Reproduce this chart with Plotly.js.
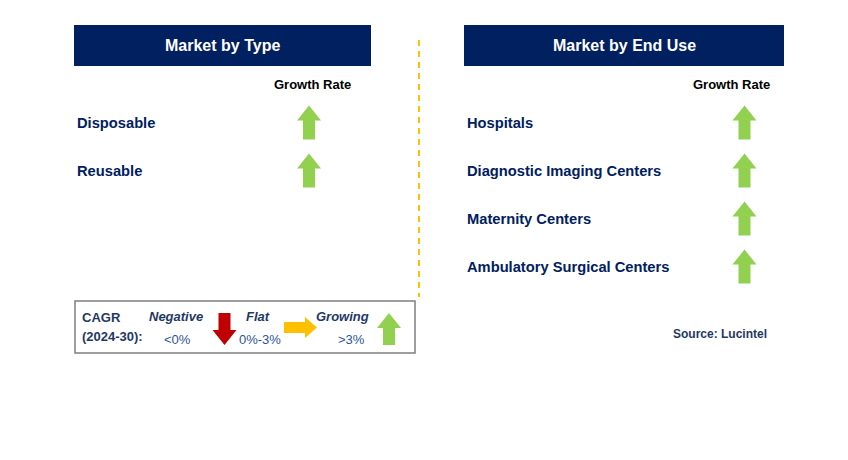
<!DOCTYPE html>
<html>
<head>
<meta charset="utf-8">
<script src="https://cdn.plot.ly/plotly-3.0.1.min.js"></script>
<style>html,body{margin:0;padding:0;background:#fff;}#chart{width:848px;height:460px;}</style>
</head>
<body>
<div id="chart"></div>
<script>
// ---- data ----
var typeTitle = "Market by Type";
var typeSegments = ["Disposable", "Reusable"];
var typeGrowth = ["growing", "growing"];
var endUseTitle = "Market by End Use";
var endUseSegments = ["Hospitals", "Diagnostic Imaging Centers", "Maternity Centers", "Ambulatory Surgical Centers"];
var endUseGrowth = ["growing", "growing", "growing", "growing"];
var columnLabel = "Growth Rate";
var legendCats = ["Negative", "Flat", "Growing"];
var legendRanges = ["<0%", "0%-3%", ">3%"];
var cagrLabel = ["CAGR", "(2024-30):"];
var sourceText = "Source: Lucintel";

// ---- styling ----
var NAVY = "#002060", GREEN = "#92D050", RED = "#C00000", YELLOW = "#FFC000";
var FONT = "Liberation Sans, Arial, sans-serif";

function upArrow(cx, top, bottom, w, headH, shaftW) {
  var hw = w / 2, sw = shaftW / 2, hb = top + headH;
  return {x: [cx, cx + hw, cx + sw, cx + sw, cx - sw, cx - sw, cx - hw, cx],
          y: [top, hb, hb, bottom, bottom, hb, hb, top]};
}
function downArrow(cx, top, bottom, w, headH, shaftW) {
  var hw = w / 2, sw = shaftW / 2, hb = bottom - headH;
  return {x: [cx, cx + hw, cx + sw, cx + sw, cx - sw, cx - sw, cx - hw, cx],
          y: [bottom, hb, hb, top, top, hb, hb, bottom]};
}
function rightArrow(left, right, cy, h, headW, shaftH) {
  var hh = h / 2, sh = shaftH / 2, hb = right - headW;
  return {x: [right, hb, hb, left, left, hb, hb, right],
          y: [cy, cy - hh, cy - sh, cy - sh, cy + sh, cy + sh, cy + hh, cy]};
}
var growthColor = {growing: GREEN, negative: RED, flat: YELLOW};
function growthShape(g, cx, cy) {
  if (g === "negative") return downArrow(cx, cy - 16.5, cy + 16.5, 24, 15, 12);
  if (g === "flat") return rightArrow(cx - 17, cx + 17, cy, 21, 12, 11);
  return upArrow(cx, cy - 17, cy + 17, 24, 15, 12);
}
function polyTrace(p, color) {
  return {type: "scatter", mode: "lines", x: p.x, y: p.y, fill: "toself",
          fillcolor: color, line: {width: 0, color: color}, hoverinfo: "skip", showlegend: false};
}

var traces = [];
var annotations = [];
var shapes = [];

function txt(text, x, y, opts) {
  opts = opts || {};
  annotations.push({text: text, x: x, y: y, xref: "x", yref: "y", showarrow: false,
    xanchor: opts.xanchor || "left", yanchor: "middle",
    font: {family: FONT, size: opts.size || 14.7, color: opts.color || NAVY}});
}

// headers
shapes.push({type: "rect", x0: 74, x1: 371, y0: 25, y1: 66, fillcolor: NAVY, line: {width: 0}, layer: "below"});
shapes.push({type: "rect", x0: 464, x1: 784, y0: 25, y1: 66, fillcolor: NAVY, line: {width: 0}, layer: "below"});
txt("<b>" + typeTitle + "</b>", 222.5, 45.5, {xanchor: "center", size: 16, color: "#fff"});
txt("<b>" + endUseTitle + "</b>", 624, 45.5, {xanchor: "center", size: 16, color: "#fff"});

// dashed divider
shapes.push({type: "line", x0: 419, x1: 419, y0: 40, y1: 297, line: {color: YELLOW, width: 2, dash: "6px,5px"}});

// column labels
txt("<b>" + columnLabel + "</b>", 312, 84.5, {xanchor: "center", size: 13, color: "#000"});
txt("<b>" + columnLabel + "</b>", 731, 84.5, {xanchor: "center", size: 13, color: "#000"});

// rows
var rowY0 = 124, rowStep = 48;
typeSegments.forEach(function (s, i) {
  var y = rowY0 + i * rowStep;
  txt("<b>" + s + "</b>", 75, y - 1);
  traces.push(polyTrace(growthShape(typeGrowth[i], 309, y - 1.5), growthColor[typeGrowth[i]]));
});
endUseSegments.forEach(function (s, i) {
  var y = rowY0 + i * rowStep;
  txt("<b>" + s + "</b>", 465, y - 1);
  traces.push(polyTrace(growthShape(endUseGrowth[i], 744.5, y - 1.5), growthColor[endUseGrowth[i]]));
});

// legend box
shapes.push({type: "rect", x0: 75, x1: 415, y0: 301, y1: 353, line: {color: "#7F7F7F", width: 1.5}, fillcolor: "rgba(0,0,0,0)"});
txt("<b>" + cagrLabel[0] + "</b>", 80, 317, {size: 13, color: "#1F3864"});
txt("<b>" + cagrLabel[1] + "</b>", 80, 336.5, {size: 13, color: "#1F3864"});
var legCx = [176, 258, 342], legRx = [177, 260, 351];
legendCats.forEach(function (c, i) {
  txt("<b><i>" + c + "</i></b>", legCx[i], 316, {xanchor: "center", size: 13, color: "#1F3864"});
  txt(legendRanges[i], legRx[i], 339.5, {xanchor: "center", size: 13, color: "#2F5597"});
});
traces.push(polyTrace(downArrow(224.5, 313, 345, 24, 15, 12), RED));
traces.push(polyTrace(rightArrow(284, 317, 327.5, 21, 12, 11), YELLOW));
traces.push(polyTrace(upArrow(389, 313, 345, 24, 15, 12), GREEN));

// source
txt("<b>" + sourceText + "</b>", 720, 334, {xanchor: "center", size: 12, color: "#1F3864"});

var layout = {
  width: 848, height: 460,
  margin: {l: 0, r: 0, t: 0, b: 0},
  paper_bgcolor: "#fff", plot_bgcolor: "#fff",
  xaxis: {range: [0, 848], visible: false, fixedrange: true},
  yaxis: {range: [460, 0], visible: false, fixedrange: true},
  shapes: shapes, annotations: annotations, showlegend: false
};
Plotly.newPlot("chart", traces, layout, {staticPlot: true, displayModeBar: false});
</script>
</body>
</html>
